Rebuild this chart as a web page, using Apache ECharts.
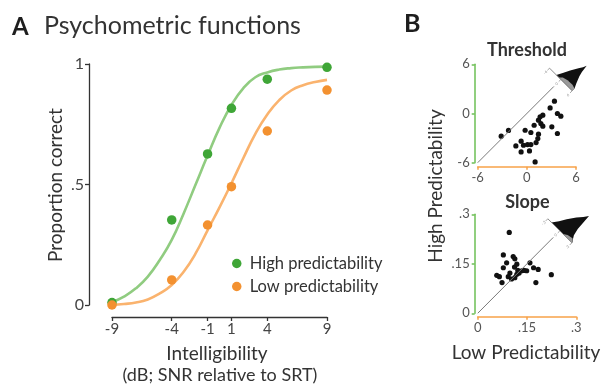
<!DOCTYPE html>
<html>
<head>
<meta charset="utf-8">
<script src="https://cdn.jsdelivr.net/npm/echarts@6/dist/echarts.min.js"></script>
<style>
  html, body { margin: 0; padding: 0; background: #fff; }
  #chart { width: 603px; height: 388px; }
</style>
</head>
<body>
<div id="chart"></div>
<script>
// ---- Panel A: psychometric functions ----
const snrLevels = [-9, -4, -1, 1, 4, 9];
const highPredCorrect = [0.01, 0.353, 0.627, 0.816, 0.937, 0.986];
const lowPredCorrect = [0.0, 0.104, 0.332, 0.491, 0.722, 0.892];

// fitted curves, sampled every 1 dB
const fitSnr = [-9, -8, -7, -6, -5, -4, -3, -2, -1, 0, 1, 2, 3, 4, 5, 6, 7, 8, 9];
const highFit = [0.012, 0.035, 0.069, 0.118, 0.187, 0.27, 0.38, 0.50, 0.62, 0.735, 0.83, 0.90, 0.945, 0.965, 0.977, 0.983, 0.986, 0.988, 0.989];
const lowFit = [0.0, 0.004, 0.01, 0.023, 0.048, 0.083, 0.138, 0.214, 0.31, 0.405, 0.505, 0.61, 0.71, 0.79, 0.85, 0.89, 0.912, 0.925, 0.934];

const propTicks = [0, 0.5, 1];
const propTickLabels = ['0', '.5', '1'];

// ---- Panel B: per-listener parameters (low vs high predictability) ----
const thresholdLow  = [-3.13, -2.24, 3.37, 2.84, 3.73, 4.15, 1.95, 1.62, 1.42, 0.89, 1.71, 1.95, 3.05, 3.73, -0.21, 0.49, 1.42, -1.34, -0.70, -0.41, 0.08, 0.49, 1.13, 1.34, -0.70, 0.32, 1.01];
const thresholdHigh = [-2.77, -2.07, 1.50, 0.68, 0.00, -0.33, -0.20, -0.41, -0.82, -1.43, -1.22, -1.55, -1.63, -2.44, -2.04, -2.32, -2.52, -3.95, -3.38, -3.87, -3.79, -3.79, -3.54, -3.05, -4.68, -4.56, -5.90];

const slopeLow  = [0.096, 0.078, 0.108, 0.113, 0.088, 0.119, 0.078, 0.112, 0.159, 0.170, 0.184, 0.149, 0.134, 0.122, 0.058, 0.066, 0.093, 0.103, 0.119, 0.126, 0.074, 0.177, 0.224, 0.113, 0.098, 0.141];
const slopeHigh = [0.245, 0.177, 0.172, 0.165, 0.153, 0.149, 0.138, 0.140, 0.153, 0.138, 0.133, 0.129, 0.129, 0.130, 0.115, 0.111, 0.111, 0.104, 0.118, 0.122, 0.093, 0.093, 0.117, 0.108, 0.122, 0.130];

const slopeTickLabels = ['0', '.15', '.3'];

// identity lines
const thresholdIdentity = [-6, 3.3];
const slopeIdentity = [0, 0.23];

// distributions of the low - high difference, [difference, relative density]
const thresholdDiffRange = 6;
const thresholdDensity = [[-2.4, 0], [-1.1, 0.24], [0.1, 0.46], [1.7, 0.73], [2.6, 0.87], [3.2, 1.0], [3.6, 0.72], [4.05, 0.55], [5.2, 0.28], [6, 0.12]];
const thresholdDensityBase = [[-1, 0], [0, 0.1], [2, 0.15], [4.5, 0.16], [6, 0.12]];
const thresholdDiffLabels = ['-6', '0', '6'];
const thresholdGlyphAt = [4.15, 4.15];

const slopeDiffRange = 0.3;
const slopeDensity = [[-0.21, 0], [-0.13, 0.2], [-0.06, 0.42], [0.04, 0.68], [0.12, 0.85], [0.18, 1.0], [0.2, 0.45], [0.23, 0.22], [0.27, 0.1], [0.3, 0.04]];
const slopeDensityBase = [[0.08, 0], [0.15, 0.08], [0.25, 0.12], [0.3, 0.04]];
const slopeDiffLabels = ['-.3', '0', '.3'];
const slopeGlyphAt = [0.25, 0.25];

const zip = (a, b) => a.map((v, i) => [v, b[i]]);

const FONT = 'Lato, "Open Sans", sans-serif';
const TEXT = '#333';
const GREEN_DOT = '#3fa637';
const ORANGE_DOT = '#f39130';
const GREEN_LINE = '#90cc80';
const ORANGE_LINE = '#fab36e';
const AX_GREEN = '#6dbf55';
const AX_ORANGE = '#f7a24a';

// Rotated density glyph sitting on the identity line
function densityGlyph(range, density, base, labels, halfLen, peak) {
  return function (params, api) {
    const c = api.coord([api.value(0), api.value(1)]);
    const s = Math.SQRT1_2;
    // u runs along the glyph axis (towards lower right), n away from it (towards upper right)
    const pt = (u, n) => [c[0] + (u + n) * s, c[1] + (u - n) * s];
    const k = halfLen / range;
    const shape = (prof) => {
      const pts = [pt(prof[0][0] * k, 0)];
      prof.forEach(([d, h]) => pts.push(pt(d * k, h * peak)));
      pts.push(pt(prof[prof.length - 1][0] * k, 0));
      return pts;
    };
    const children = [
      { type: 'polygon', shape: { points: shape(density) }, style: { fill: '#111' } },
      { type: 'polygon', shape: { points: shape(base) }, style: { fill: '#9a9a9a' } },
      { type: 'line', shape: { x1: pt(-halfLen, 0)[0], y1: pt(-halfLen, 0)[1], x2: pt(halfLen, 0)[0], y2: pt(halfLen, 0)[1] },
        style: { stroke: '#8a8a8a', lineWidth: 1 } }
    ];
    [-halfLen, 0, halfLen].forEach((u, i) => {
      const a = pt(u, 0), b = pt(u, -3), t = pt(u, -6);
      children.push({ type: 'line', shape: { x1: a[0], y1: a[1], x2: b[0], y2: b[1] }, style: { stroke: '#8a8a8a', lineWidth: 0.8 } });
      children.push({ type: 'text', x: t[0], y: t[1], rotation: Math.PI / 4,
        style: { text: labels[i], font: '4px ' + FONT, fill: '#999', textAlign: 'center', textVerticalAlign: 'middle' } });
    });
    return { type: 'group', children };
  };
}

const chart = echarts.init(document.getElementById('chart'), null, { renderer: 'canvas' });

const axisCommonA = {
  axisLine: { show: true, onZero: false, lineStyle: { color: '#333', width: 1.3 } },
  axisTick: { show: true, length: 4, lineStyle: { color: '#333', width: 1.3 } },
  splitLine: { show: false },
  axisLabel: { color: '#444', fontSize: 15, fontFamily: FONT, margin: 5 }
};

function bAxis(color, extra) {
  return Object.assign({
    type: 'value',
    axisLine: { show: true, onZero: false, lineStyle: { color, width: 1.5 } },
    axisTick: { show: true, length: 3, lineStyle: { color, width: 1.5 } },
    splitLine: { show: false }
  }, extra);
}

const bLabel = (formatter) => ({ color: '#555', fontSize: 13, fontFamily: FONT, margin: 5, formatter });

const option = {
  animation: false,
  textStyle: { fontFamily: FONT },
  grid: [
    { left: 112, top: 64, width: 215, height: 241 },
    { left: 477.7, top: 64.3, width: 98.3, height: 98.4 },
    { left: 477.7, top: 214.3, width: 98.6, height: 99 }
  ],
  xAxis: [
    Object.assign({}, axisCommonA, {
      gridIndex: 0, type: 'value', min: -9, max: 9, offset: 12,
      axisTick: Object.assign({}, axisCommonA.axisTick, { customValues: snrLevels }),
      axisLabel: Object.assign({}, axisCommonA.axisLabel, { customValues: snrLevels })
    }),
    bAxis(AX_ORANGE, { gridIndex: 1, min: -6, max: 6, interval: 6, offset: 4, axisLabel: bLabel(v => String(v)) }),
    bAxis(AX_ORANGE, { gridIndex: 2, min: 0, max: 0.3, interval: 0.15, offset: 3.4,
      axisLabel: bLabel(v => slopeTickLabels[Math.round(v / 0.15)]) })
  ],
  yAxis: [
    Object.assign({}, axisCommonA, {
      gridIndex: 0, type: 'value', min: 0, max: 1, interval: 0.5, offset: 23,
      axisLabel: Object.assign({}, axisCommonA.axisLabel, { fontSize: 16,
        formatter: v => propTickLabels[propTicks.indexOf(v)] })
    }),
    bAxis(AX_GREEN, { gridIndex: 1, min: -6, max: 6, interval: 6, offset: 3, axisLabel: bLabel(v => String(v)) }),
    bAxis(AX_GREEN, { gridIndex: 2, min: 0, max: 0.3, interval: 0.15, offset: 3,
      axisLabel: bLabel(v => slopeTickLabels[Math.round(v / 0.15)]) })
  ],
  legend: {
    data: ['High predictability', 'Low predictability'],
    orient: 'vertical', left: 232, top: 255, padding: 0,
    itemWidth: 16, itemHeight: 9.5, itemGap: 6, icon: 'circle',
    selectedMode: false,
    textStyle: { fontSize: 16.5, color: TEXT, fontFamily: FONT }
  },
  series: [
    { name: 'High fit', type: 'line', xAxisIndex: 0, yAxisIndex: 0, data: zip(fitSnr, highFit),
      smooth: 0.5, showSymbol: false, lineStyle: { color: GREEN_LINE, width: 2.6 }, z: 2 },
    { name: 'Low fit', type: 'line', xAxisIndex: 0, yAxisIndex: 0, data: zip(fitSnr, lowFit),
      smooth: 0.5, showSymbol: false, lineStyle: { color: ORANGE_LINE, width: 2.6 }, z: 2 },
    { name: 'High predictability', type: 'scatter', xAxisIndex: 0, yAxisIndex: 0,
      data: zip(snrLevels, highPredCorrect), symbolSize: 9.5, itemStyle: { color: GREEN_DOT, opacity: 1 }, z: 3 },
    { name: 'Low predictability', type: 'scatter', xAxisIndex: 0, yAxisIndex: 0,
      data: zip(snrLevels, lowPredCorrect), symbolSize: 9.5, itemStyle: { color: ORANGE_DOT, opacity: 1 }, z: 3 },

    { name: 'Threshold identity', type: 'line', xAxisIndex: 1, yAxisIndex: 1,
      data: zip(thresholdIdentity, thresholdIdentity), showSymbol: false, lineStyle: { color: '#7a7a7a', width: 1 } },
    { name: 'Threshold', type: 'scatter', xAxisIndex: 1, yAxisIndex: 1,
      data: zip(thresholdLow, thresholdHigh), symbolSize: 5.2, itemStyle: { color: '#111', opacity: 1 } },
    { name: 'Threshold difference', type: 'custom', xAxisIndex: 1, yAxisIndex: 1, clip: false,
      data: [thresholdGlyphAt],
      renderItem: densityGlyph(thresholdDiffRange, thresholdDensity, thresholdDensityBase, thresholdDiffLabels, 16, 28) },

    { name: 'Slope identity', type: 'line', xAxisIndex: 2, yAxisIndex: 2,
      data: zip(slopeIdentity, slopeIdentity), showSymbol: false, lineStyle: { color: '#7a7a7a', width: 1 } },
    { name: 'Slope', type: 'scatter', xAxisIndex: 2, yAxisIndex: 2,
      data: zip(slopeLow, slopeHigh), symbolSize: 5.2, itemStyle: { color: '#111', opacity: 1 } },
    { name: 'Slope difference', type: 'custom', xAxisIndex: 2, yAxisIndex: 2, clip: false,
      data: [slopeGlyphAt],
      renderItem: densityGlyph(slopeDiffRange, slopeDensity, slopeDensityBase, slopeDiffLabels, 17, 31) }
  ],
  graphic: [
    { type: 'text', x: 12, y: 27, style: { text: 'A', font: 'bold 24px ' + FONT, fill: '#1e1e1e', textVerticalAlign: 'middle' } },
    { type: 'text', x: 44, y: 25.5, style: { text: 'Psychometric functions', font: '25px ' + FONT, fill: TEXT, textVerticalAlign: 'middle' } },
    { type: 'text', x: 404, y: 23.5, style: { text: 'B', font: 'bold 25px ' + FONT, fill: '#1e1e1e', textVerticalAlign: 'middle' } },
    { type: 'text', x: 527, y: 50, style: { text: 'Threshold', font: 'bold 18px ' + FONT, fill: TEXT, textAlign: 'center', textVerticalAlign: 'middle' } },
    { type: 'text', x: 527.5, y: 202.5, style: { text: 'Slope', font: 'bold 18px ' + FONT, fill: TEXT, textAlign: 'center', textVerticalAlign: 'middle' } },
    { type: 'text', x: 56, y: 185, rotation: Math.PI / 2, style: { text: 'Proportion correct', font: '19px ' + FONT, fill: TEXT, textAlign: 'center', textVerticalAlign: 'middle' } },
    { type: 'text', x: 217, y: 354, style: { text: 'Intelligibility', font: '19px ' + FONT, fill: TEXT, textAlign: 'center', textVerticalAlign: 'middle' } },
    { type: 'text', x: 220, y: 375.5, style: { text: '(dB; SNR relative to SRT)', font: '18px ' + FONT, fill: TEXT, textAlign: 'center', textVerticalAlign: 'middle' } },
    { type: 'text', x: 436, y: 186, rotation: Math.PI / 2, style: { text: 'High Predictability', font: '19px ' + FONT, fill: TEXT, textAlign: 'center', textVerticalAlign: 'middle' } },
    { type: 'text', x: 526, y: 353, style: { text: 'Low Predictability', font: '19px ' + FONT, fill: TEXT, textAlign: 'center', textVerticalAlign: 'middle' } }
  ]
};

chart.setOption(option);
</script>
</body>
</html>
